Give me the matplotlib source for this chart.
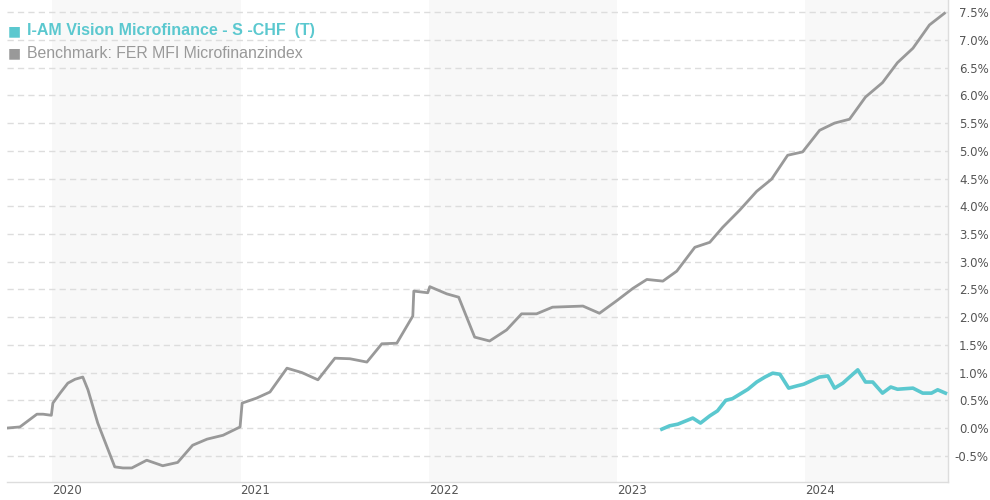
import matplotlib
matplotlib.use("Agg")
import matplotlib.pyplot as plt
import matplotlib.dates as mdates
import numpy as np
import pandas as pd

# benchmark: FER MFI Microfinanzindex (cumulative %)
bench_dates = [
    "2019-10-06", "2019-10-31", "2019-12-03", "2019-12-15", "2019-12-31", "2020-01-03",
    "2020-01-17", "2020-02-01", "2020-02-15", "2020-03-01", "2020-03-11", "2020-03-30",
    "2020-05-02", "2020-05-18", "2020-06-04", "2020-07-03", "2020-08-03", "2020-09-01",
    "2020-09-30", "2020-10-28", "2020-11-28", "2020-12-31", "2021-01-04", "2021-02-01",
    "2021-02-27", "2021-04-01", "2021-04-30", "2021-05-31", "2021-07-03", "2021-08-01",
    "2021-09-03", "2021-10-02", "2021-10-31", "2021-12-01", "2021-12-03", "2021-12-30",
    "2022-01-03", "2022-02-05", "2022-02-28", "2022-03-31", "2022-04-29", "2022-06-01",
    "2022-06-30", "2022-07-29", "2022-08-29", "2022-10-27", "2022-11-28", "2023-01-01",
    "2023-02-01", "2023-02-28", "2023-03-31", "2023-04-27", "2023-06-01", "2023-06-30",
    "2023-07-25", "2023-08-27", "2023-09-29", "2023-10-28", "2023-11-28", "2023-12-27",
    "2024-01-29", "2024-02-27", "2024-03-27", "2024-04-27", "2024-05-30", "2024-06-28",
    "2024-07-28", "2024-08-29", "2024-09-27",
]
bench_values = [
    0.00, 0.02, 0.25, 0.25, 0.23, 0.45,
    0.63, 0.81, 0.88, 0.92, 0.69, 0.09,
    -0.70, -0.72, -0.72, -0.58, -0.68, -0.62,
    -0.31, -0.20, -0.13, 0.02, 0.45, 0.54,
    0.65, 1.08, 1.00, 0.87, 1.26, 1.25,
    1.19, 1.52, 1.53, 2.02, 2.47, 2.44,
    2.55, 2.42, 2.36, 1.64, 1.57, 1.77,
    2.06, 2.06, 2.18, 2.20, 2.07, 2.30,
    2.52, 2.68, 2.65, 2.83, 3.26, 3.35,
    3.62, 3.93, 4.27, 4.49, 4.92, 4.98,
    5.37, 5.50, 5.57, 5.97, 6.23, 6.59,
    6.85, 7.27, 7.48,
]

# fund: I-AM Vision Microfinance - S -CHF (T)
fund_dates = [
    "2023-03-29", "2023-04-13", "2023-04-29", "2023-05-28", "2023-06-12", "2023-06-30",
    "2023-07-15", "2023-07-31", "2023-08-13", "2023-09-12", "2023-09-29", "2023-10-15",
    "2023-10-30", "2023-11-13", "2023-11-30", "2023-12-16", "2023-12-29", "2024-01-29",
    "2024-02-14", "2024-02-27", "2024-03-14", "2024-04-12", "2024-04-27", "2024-05-11",
    "2024-05-30", "2024-06-15", "2024-06-28", "2024-07-28", "2024-08-16", "2024-09-02",
    "2024-09-14", "2024-09-29",
]
fund_values = [
    -0.02, 0.04, 0.07, 0.18, 0.09, 0.22,
    0.31, 0.50, 0.53, 0.70, 0.83, 0.92,
    0.99, 0.97, 0.72, 0.76, 0.79, 0.92,
    0.94, 0.72, 0.81, 1.05, 0.83, 0.83,
    0.63, 0.74, 0.70, 0.72, 0.63, 0.63,
    0.69, 0.63,
]

years = [2020, 2021, 2022, 2023, 2024]
shaded_years = [2020, 2022, 2024]
y_ticks = [-0.5, 0.0, 0.5, 1.0, 1.5, 2.0, 2.5, 3.0, 3.5, 4.0, 4.5, 5.0, 5.5, 6.0, 6.5, 7.0, 7.5]

fund_name = "I-AM Vision Microfinance - S -CHF  (T)"
bench_name = "Benchmark: FER MFI Microfinanzindex"

teal = "#5bc8cf"
grey = "#999999"

fig = plt.figure(figsize=(9.9, 5.0), dpi=100)
ax = fig.add_axes([7 / 990, 18 / 500, 941 / 990, 482 / 500])

x_start = pd.Timestamp("2019-10-06")
x_end = pd.Timestamp("2024-10-04")

for yr in shaded_years:
    a = pd.Timestamp(f"{yr}-01-01")
    b = min(pd.Timestamp(f"{yr + 1}-01-01"), x_end)
    ax.axvspan(a, b, color="#f8f8f8", zorder=0, lw=0)

for t in y_ticks:
    ax.axhline(t, color="#dddddd", lw=1, ls=(0, (4.5, 3)), zorder=1)

ax.plot(pd.to_datetime(bench_dates), bench_values, color=grey, lw=2.0, zorder=3,
        solid_joinstyle="round")
ax.plot(pd.to_datetime(fund_dates), fund_values, color=teal, lw=2.6, zorder=4,
        solid_joinstyle="round")

ax.set_xlim(x_start, x_end)
ax.set_ylim(-0.973, 7.72)

ax.set_xticks([pd.Timestamp(f"{y}-01-01") for y in years])
ax.set_xticklabels([str(y) for y in years], ha="left")
ax.tick_params(axis="x", length=0, pad=1.5, labelsize=8.5, labelcolor="#555555")

ax.yaxis.tick_right()
ax.set_yticks(y_ticks)
ax.set_yticklabels([f"{t:.1f}%" for t in y_ticks], ha="right")
ax.tick_params(axis="y", length=0, pad=29.3, labelsize=8.5, labelcolor="#555555")

for s in ["top", "left"]:
    ax.spines[s].set_visible(False)
for s in ["bottom", "right"]:
    ax.spines[s].set_color("#dddddd")
    ax.spines[s].set_linewidth(1)

# legend drawn as text at the top left
fig.text(8 / 990, 1 - 31 / 500, "\u25a0", color=teal, fontsize=10, va="center",
         family="DejaVu Sans")
fig.text(27 / 990, 1 - 31 / 500, fund_name, color=teal, fontsize=11.5, va="center",
         fontweight="bold", family="Liberation Sans")
fig.text(8 / 990, 1 - 53 / 500, "\u25a0", color=grey, fontsize=10, va="center",
         family="DejaVu Sans")
fig.text(27 / 990, 1 - 53 / 500, bench_name, color=grey, fontsize=11.4, va="center",
         family="Liberation Sans")

fig.savefig("out.png", dpi=100)
